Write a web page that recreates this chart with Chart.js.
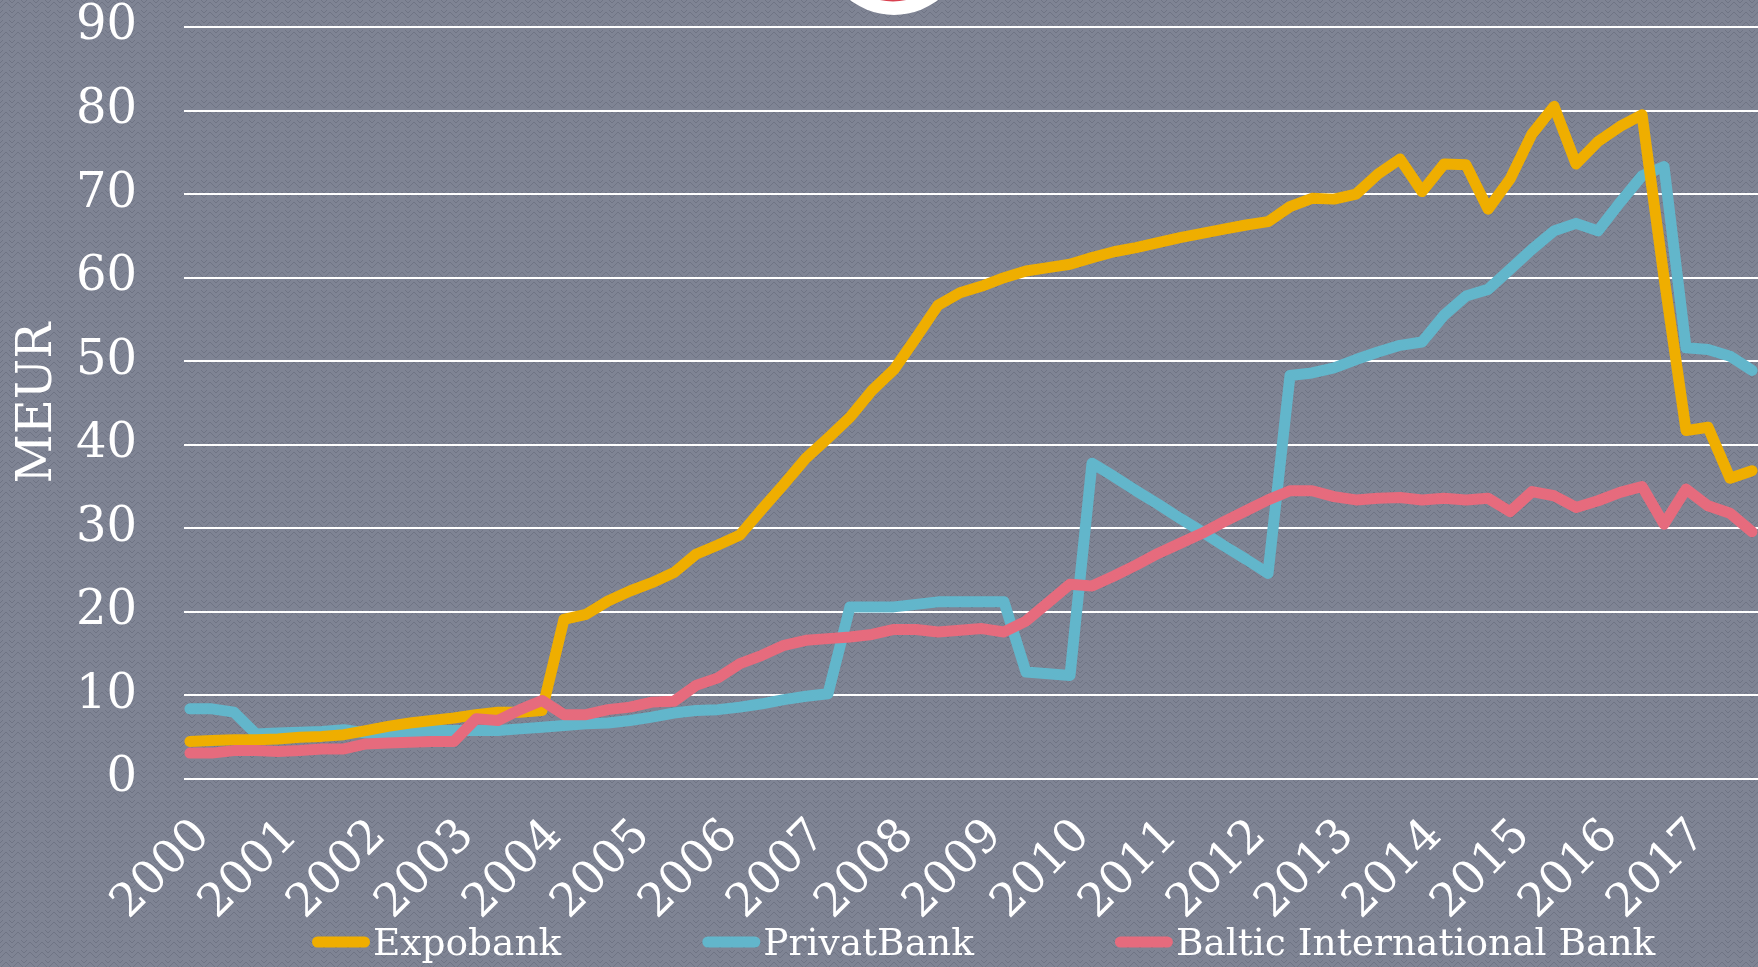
<!DOCTYPE html>
<html>
<head>
<meta charset="utf-8">
<title>Expobank, PrivatBank, Baltic International Bank</title>
<script src="https://cdn.jsdelivr.net/npm/chart.js@4"></script>
<style>
  html, body { margin: 0; padding: 0; background: #7b8090; }
  #wrap { width: 1758px; height: 967px; position: relative; }
</style>
</head>
<body>
<div id="wrap"><canvas id="chart"></canvas></div>
<script>
// quarterly figures, MEUR, 2000 Q1 .. 2017 Q4
const years = [2000, 2001, 2002, 2003, 2004, 2005, 2006, 2007, 2008,
               2009, 2010, 2011, 2012, 2013, 2014, 2015, 2016, 2017];
const quarters = years.flatMap(y => [y, y + 0.25, y + 0.5, y + 0.75]);

const expobank = [
  4.5, 4.6, 4.7, 4.7, 4.8, 5.0, 5.1, 5.3, 5.8, 6.3, 6.7, 7.0,
  7.3, 7.7, 8.0, 8.0, 8.2, 19.1, 19.7, 21.3, 22.5, 23.5, 24.7, 26.9,
  28.0, 29.2, 32.3, 35.3, 38.4, 40.8, 43.3, 46.5, 49.0, 52.8, 56.7, 58.2,
  59.0, 60.0, 60.8, 61.2, 61.6, 62.4, 63.1, 63.6, 64.2, 64.8, 65.3, 65.8,
  66.3, 66.7, 68.5, 69.5, 69.4, 70.0, 72.4, 74.2, 70.3, 73.6, 73.5, 68.2,
  71.8, 77.2, 80.5, 73.6, 76.3, 78.1, 79.5, 60.0, 41.7, 42.1, 36.0, 36.9
];
const privatBank = [
  8.4, 8.4, 8.0, 5.4, 5.5, 5.6, 5.7, 5.9, 5.5, 5.4, 5.6, 5.8,
  5.8, 5.8, 5.8, 6.0, 6.2, 6.4, 6.6, 6.7, 7.0, 7.4, 7.9, 8.2,
  8.3, 8.6, 9.0, 9.5, 9.9, 10.2, 20.6, 20.6, 20.6, 20.9, 21.2, 21.2,
  21.2, 21.2, 12.8, 12.6, 12.4, 37.8, 36.2, 34.5, 32.9, 31.2, 29.6, 27.9,
  26.3, 24.6, 48.3, 48.6, 49.2, 50.2, 51.1, 51.9, 52.3, 55.5, 57.8, 58.6,
  61.0, 63.4, 65.6, 66.5, 65.6, 69.0, 72.2, 73.3, 51.6, 51.4, 50.6, 48.9
];
const balticBank = [
  3.1, 3.1, 3.4, 3.4, 3.3, 3.4, 3.6, 3.6, 4.2, 4.3, 4.4, 4.5,
  4.5, 7.2, 7.0, 8.3, 9.4, 7.7, 7.7, 8.3, 8.6, 9.2, 9.3, 11.2,
  12.1, 13.8, 14.8, 16.0, 16.6, 16.8, 17.0, 17.3, 17.9, 17.9, 17.6, 17.8,
  18.0, 17.6, 18.9, 21.1, 23.3, 23.1, 24.3, 25.6, 27.0, 28.2, 29.4, 30.8,
  32.1, 33.4, 34.5, 34.5, 33.8, 33.4, 33.6, 33.7, 33.4, 33.6, 33.4, 33.6,
  32.0, 34.4, 33.9, 32.5, 33.3, 34.3, 35.0, 30.5, 34.7, 32.7, 31.8, 29.6
];

const FONT = "'DejaVu Serif', 'Liberation Serif', serif";
const YELLOW = '#efae00';
const BLUE = '#62b6cb';
const RED = '#e66b7d';
const LINE_W = 11;

// patterned grey backdrop
function makePattern(ctx) {
  const t = document.createElement('canvas');
  t.width = 12;
  t.height = 10;
  const g = t.getContext('2d');
  g.fillStyle = '#7f8494';
  g.fillRect(0, 0, 12, 10);
  g.strokeStyle = '#6f7484';
  g.lineWidth = 1;
  g.beginPath();
  g.moveTo(0, 8); g.lineTo(6, 2); g.lineTo(12, 8);
  g.moveTo(0, 3); g.lineTo(3, 0);
  g.moveTo(12, 3); g.lineTo(9, 0);
  g.stroke();
  return ctx.createPattern(t, 'repeat');
}

const backdrop = {
  id: 'backdrop',
  beforeDraw(chart) {
    const ctx = chart.ctx;
    ctx.save();
    ctx.fillStyle = makePattern(ctx);
    ctx.fillRect(0, 0, chart.width, chart.height);
    ctx.restore();
  }
};

// the cut-off logo at the top edge
const logo = {
  id: 'logo',
  afterDraw(chart) {
    const ctx = chart.ctx;
    ctx.save();
    ctx.fillStyle = '#ffffff';
    ctx.beginPath();
    ctx.arc(894, -57, 72, 0, Math.PI * 2);
    ctx.fill();
    ctx.fillStyle = '#d9414f';
    ctx.beginPath();
    ctx.arc(893, -57, 58.5, 0, Math.PI * 2);
    ctx.fill();
    ctx.restore();
  }
};

// legend row: rounded line swatch right against the label, wide gaps between items
const lineLegend = {
  id: 'lineLegend',
  afterDraw(chart) {
    const ctx = chart.ctx;
    const swatch = 58, toText = 61, gap = 141, y = 942;
    let x = 312;
    ctx.save();
    ctx.font = '37.5px ' + FONT;
    ctx.textBaseline = 'alphabetic';
    ctx.textAlign = 'left';
    chart.data.datasets.forEach(ds => {
      ctx.strokeStyle = ds.borderColor;
      ctx.lineWidth = LINE_W;
      ctx.lineCap = 'round';
      ctx.beginPath();
      ctx.moveTo(x + LINE_W / 2, y);
      ctx.lineTo(x + swatch - LINE_W / 2, y);
      ctx.stroke();
      ctx.fillStyle = '#ffffff';
      ctx.fillText(ds.label, x + toText, y + 13);
      x += toText + ctx.measureText(ds.label).width + gap;
    });
    ctx.restore();
  }
};

new Chart(document.getElementById('chart'), {
  type: 'line',
  data: {
    labels: quarters,
    datasets: [
      { label: 'Expobank', data: expobank, borderColor: YELLOW, backgroundColor: YELLOW, order: 2 },
      { label: 'PrivatBank', data: privatBank, borderColor: BLUE, backgroundColor: BLUE, order: 3 },
      { label: 'Baltic International Bank', data: balticBank, borderColor: RED, backgroundColor: RED, order: 1 }
    ]
  },
  options: {
    responsive: true,
    maintainAspectRatio: false,
    animation: false,
    layout: { padding: { top: 27, right: 0, bottom: 0, left: 0 } },
    elements: {
      line: { borderWidth: LINE_W, tension: 0, borderCapStyle: 'round', borderJoinStyle: 'round', fill: false },
      point: { radius: 0, hoverRadius: 0 }
    },
    plugins: {
      tooltip: { enabled: false },
      legend: { display: false }
    },
    scales: {
      x: {
        type: 'linear',
        min: 1999.9325,
        max: 2017.8175,
        grid: {
          display: true,
          drawOnChartArea: false,
          color: 'transparent',
          tickColor: 'transparent',
          tickLength: 30
        },
        border: { display: false },
        ticks: {
          stepSize: 1,
          maxTicksLimit: 30,
          autoSkip: false,
          includeBounds: false,
          minRotation: 45,
          maxRotation: 45,
          padding: 0,
          labelOffset: 13,
          color: '#ffffff',
          font: { family: FONT, size: 46 },
          callback: v => String(v)
        },
        afterFit: s => { s.height = 188; }
      },
      y: {
        min: 0,
        max: 90,
        grid: {
          color: '#ffffff',
          lineWidth: 2,
          tickColor: 'transparent',
          tickLength: 47
        },
        border: { display: false },
        ticks: {
          stepSize: 10,
          padding: 0,
          color: '#ffffff',
          font: { family: FONT, size: 48, lineHeight: 1.1 }
        },
        title: {
          display: true,
          text: 'MEUR',
          color: '#ffffff',
          font: { family: FONT, size: 48 },
          padding: { top: 10, bottom: 0 }
        },
        afterFit: s => { s.width = 184; }
      }
    }
  },
  plugins: [backdrop, logo, lineLegend]
});
</script>
</body>
</html>
